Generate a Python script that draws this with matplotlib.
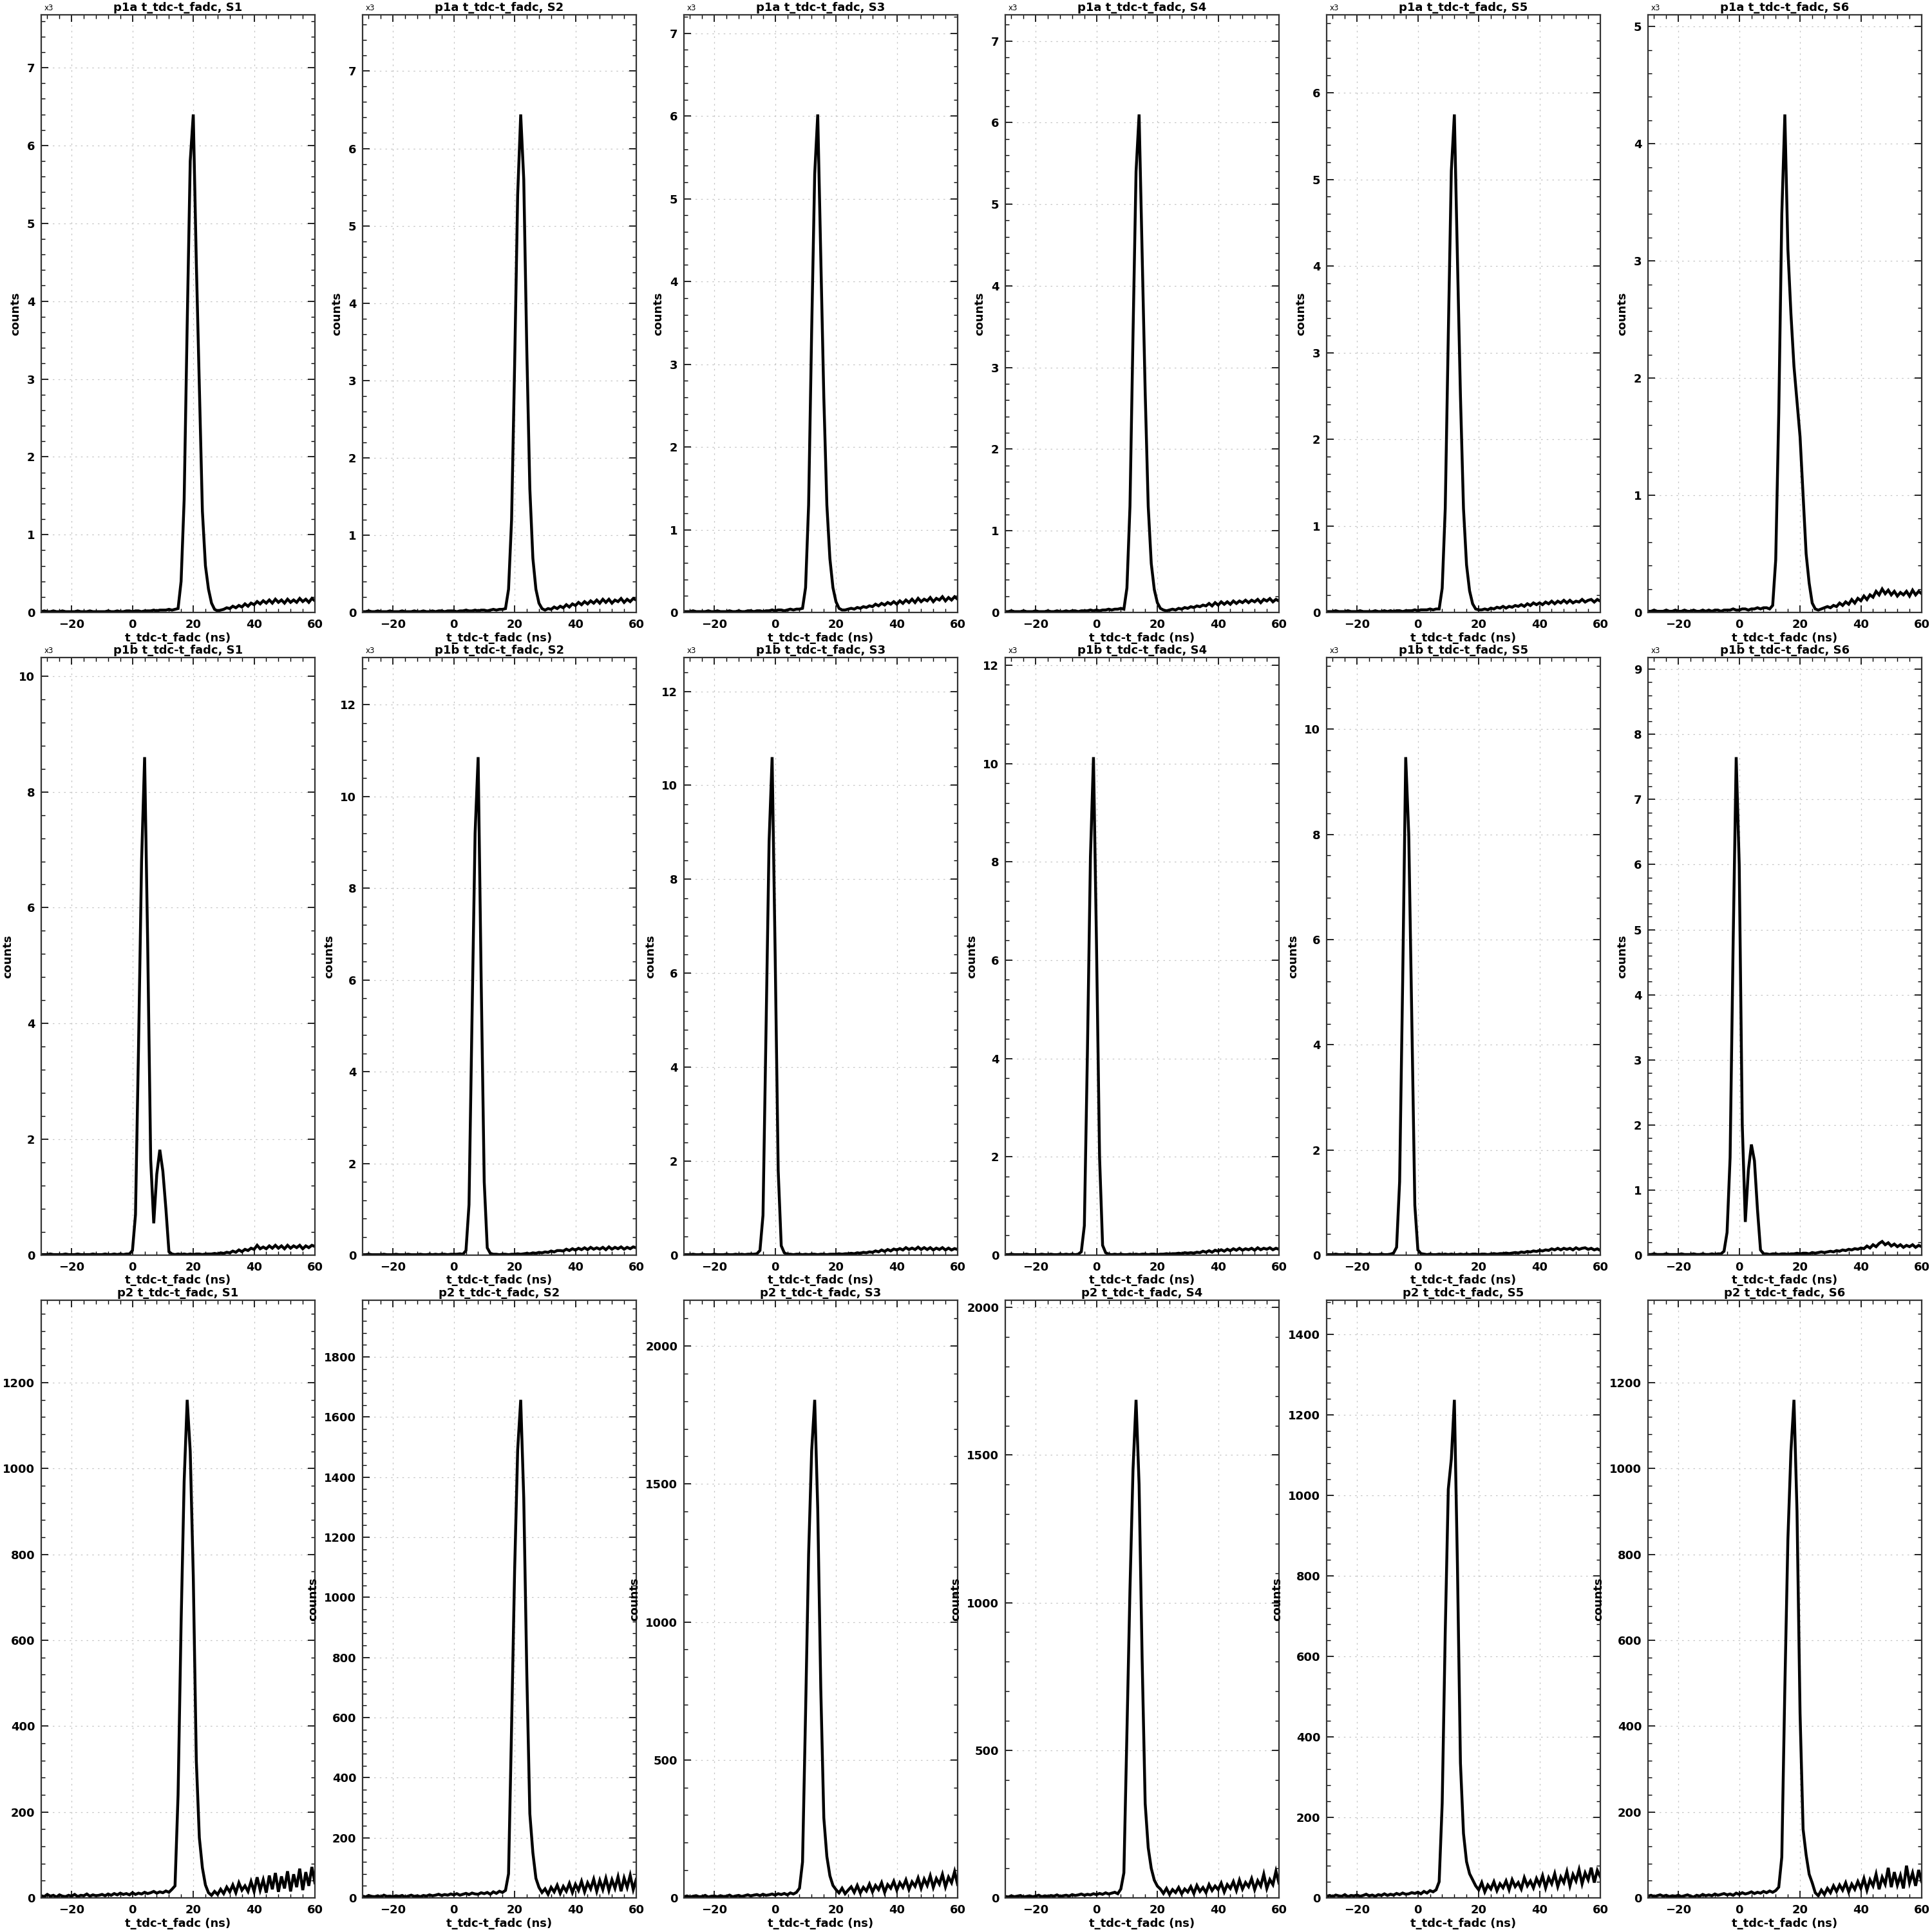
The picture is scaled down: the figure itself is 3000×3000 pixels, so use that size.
import matplotlib
matplotlib.use("Agg")
import matplotlib.pyplot as plt
from matplotlib.ticker import MaxNLocator, AutoMinorLocator

# bin positions (ns), 1 ns grid
t_ns = list(range(-30, 61))

# p1a, counts in units of 1e3
p1a_s1 = [0.01, 0.02, 0.01, 0.01, 0.02, 0.01, 0.01, 0.02, 0.01, 0.01,
          0.01, 0.01, 0.02, 0.01, 0.01, 0.01, 0.02, 0.01, 0.01, 0.01,
          0.01, 0.01, 0.02, 0.01, 0.01, 0.02, 0.01, 0.01, 0.02, 0.02,
          0.01, 0.02, 0.02, 0.01, 0.02, 0.02, 0.02, 0.03, 0.02, 0.03,
          0.03, 0.03, 0.04, 0.03, 0.04, 0.05, 0.4, 1.45, 3.7, 5.8,
          6.4, 4.5, 2.9, 1.3, 0.6, 0.3, 0.12, 0.04, 0.02, 0.03,
          0.04, 0.06, 0.05, 0.08, 0.06, 0.09, 0.07, 0.11, 0.08, 0.12,
          0.1, 0.14, 0.11, 0.15, 0.12, 0.16, 0.12, 0.17, 0.13, 0.16,
          0.12, 0.17, 0.13, 0.16, 0.13, 0.18, 0.14, 0.17, 0.13, 0.18,
          0.15]
p1a_s2 = [0.01, 0.01, 0.02, 0.01, 0.01, 0.02, 0.01, 0.01, 0.01, 0.02,
          0.01, 0.01, 0.01, 0.02, 0.01, 0.01, 0.01, 0.02, 0.01, 0.01,
          0.02, 0.01, 0.01, 0.02, 0.01, 0.02, 0.02, 0.01, 0.02, 0.02,
          0.02, 0.01, 0.02, 0.02, 0.03, 0.02, 0.02, 0.03, 0.02, 0.03,
          0.03, 0.02, 0.03, 0.04, 0.03, 0.04, 0.04, 0.05, 0.3, 1.2,
          3.2, 5.4, 6.44, 5.6, 3.4, 1.6, 0.7, 0.3, 0.12, 0.05,
          0.03, 0.05, 0.04, 0.07, 0.05, 0.08, 0.06, 0.1, 0.07, 0.11,
          0.09, 0.13, 0.1, 0.14, 0.11, 0.15, 0.12, 0.16, 0.12, 0.17,
          0.13, 0.17, 0.12, 0.16, 0.14, 0.18, 0.13, 0.17, 0.14, 0.18,
          0.16]
p1a_s3 = [0.01, 0.01, 0.01, 0.02, 0.01, 0.01, 0.01, 0.01, 0.02, 0.01,
          0.01, 0.02, 0.01, 0.01, 0.01, 0.02, 0.01, 0.01, 0.02, 0.01,
          0.01, 0.02, 0.02, 0.01, 0.02, 0.02, 0.01, 0.02, 0.02, 0.03,
          0.02, 0.03, 0.03, 0.02, 0.03, 0.04, 0.03, 0.04, 0.04, 0.05,
          0.3, 1.3, 3.4, 5.3, 6.02, 4.3, 2.6, 1.3, 0.65, 0.3,
          0.13, 0.05, 0.03, 0.03, 0.04, 0.05, 0.04, 0.06, 0.05, 0.07,
          0.06, 0.08, 0.07, 0.1, 0.08, 0.11, 0.09, 0.12, 0.1, 0.13,
          0.1, 0.14, 0.11, 0.15, 0.12, 0.16, 0.12, 0.17, 0.13, 0.16,
          0.14, 0.18, 0.13, 0.17, 0.15, 0.19, 0.14, 0.18, 0.15, 0.19,
          0.16]
p1a_s4 = [0.01, 0.01, 0.02, 0.01, 0.01, 0.01, 0.02, 0.01, 0.01, 0.01,
          0.02, 0.01, 0.01, 0.01, 0.02, 0.01, 0.01, 0.02, 0.01, 0.01,
          0.02, 0.01, 0.02, 0.02, 0.01, 0.02, 0.02, 0.02, 0.03, 0.02,
          0.03, 0.02, 0.03, 0.03, 0.04, 0.03, 0.04, 0.04, 0.05, 0.04,
          0.3, 1.3, 3.4, 5.4, 6.1, 4.4, 2.7, 1.3, 0.6, 0.28,
          0.12, 0.05, 0.03, 0.02, 0.03, 0.04, 0.03, 0.05, 0.04, 0.06,
          0.05, 0.07, 0.06, 0.08, 0.07, 0.09, 0.08, 0.11, 0.08, 0.12,
          0.09, 0.13, 0.1, 0.13, 0.1, 0.14, 0.11, 0.14, 0.12, 0.15,
          0.12, 0.15, 0.13, 0.16, 0.12, 0.16, 0.14, 0.17, 0.13, 0.16,
          0.14]
p1a_s5 = [0.01, 0.01, 0.01, 0.02, 0.01, 0.01, 0.01, 0.02, 0.01, 0.01,
          0.01, 0.02, 0.01, 0.01, 0.01, 0.01, 0.02, 0.01, 0.01, 0.02,
          0.01, 0.02, 0.01, 0.02, 0.02, 0.01, 0.02, 0.02, 0.02, 0.03,
          0.02, 0.03, 0.03, 0.03, 0.04, 0.03, 0.04, 0.04, 0.28, 1.2,
          3.2, 5.1, 5.75, 4.1, 2.5, 1.2, 0.55, 0.25, 0.1, 0.04,
          0.03, 0.03, 0.04, 0.03, 0.05, 0.04, 0.06, 0.05, 0.07, 0.05,
          0.07, 0.06, 0.08, 0.07, 0.09, 0.07, 0.1, 0.08, 0.11, 0.09,
          0.11, 0.09, 0.12, 0.1, 0.13, 0.1, 0.13, 0.11, 0.14, 0.11,
          0.14, 0.11, 0.13, 0.12, 0.15, 0.12, 0.14, 0.15, 0.12, 0.15,
          0.13]
p1a_s6 = [0.01, 0.01, 0.02, 0.01, 0.01, 0.01, 0.02, 0.01, 0.01, 0.02,
          0.01, 0.01, 0.02, 0.01, 0.01, 0.02, 0.01, 0.01, 0.02, 0.01,
          0.02, 0.01, 0.02, 0.02, 0.01, 0.02, 0.02, 0.02, 0.03, 0.02,
          0.02, 0.03, 0.03, 0.02, 0.03, 0.03, 0.04, 0.03, 0.04, 0.04,
          0.03, 0.06, 0.45, 1.7, 3.4, 4.25, 3.1, 2.55, 2.1, 1.8,
          1.5, 1.0, 0.5, 0.25, 0.08, 0.03, 0.02, 0.03, 0.04, 0.05,
          0.04, 0.06, 0.05, 0.08, 0.06, 0.09, 0.07, 0.11, 0.08, 0.12,
          0.1, 0.14, 0.11, 0.15, 0.13, 0.18, 0.15, 0.2, 0.16, 0.19,
          0.15, 0.18, 0.14, 0.17, 0.15, 0.18, 0.14, 0.19, 0.15, 0.18,
          0.16]

# p1b, counts in units of 1e3
p1b_s1 = [0.01, 0.01, 0.01, 0.02, 0.01, 0.01, 0.01, 0.01, 0.02, 0.01,
          0.01, 0.01, 0.02, 0.01, 0.01, 0.01, 0.01, 0.02, 0.01, 0.01,
          0.01, 0.02, 0.01, 0.01, 0.02, 0.01, 0.02, 0.01, 0.02, 0.02,
          0.08, 0.7, 3.6, 6.8, 8.6, 5.4, 1.65, 0.55, 1.4, 1.82,
          1.45, 0.8, 0.06, 0.02, 0.01, 0.02, 0.01, 0.02, 0.01, 0.02,
          0.01, 0.02, 0.02, 0.01, 0.02, 0.02, 0.02, 0.03, 0.02, 0.04,
          0.03, 0.05, 0.04, 0.07, 0.05, 0.09, 0.06, 0.1, 0.08, 0.12,
          0.1, 0.17, 0.11, 0.14, 0.11, 0.16, 0.12, 0.17, 0.12, 0.16,
          0.11, 0.17, 0.12, 0.16, 0.13, 0.17, 0.11, 0.16, 0.13, 0.17,
          0.15]
p1b_s2 = [0.01, 0.01, 0.02, 0.01, 0.01, 0.01, 0.01, 0.02, 0.01, 0.01,
          0.01, 0.02, 0.01, 0.01, 0.01, 0.02, 0.01, 0.01, 0.01, 0.02,
          0.01, 0.01, 0.02, 0.01, 0.02, 0.01, 0.02, 0.02, 0.01, 0.02,
          0.02, 0.02, 0.03, 0.02, 0.1, 1.1, 5.2, 9.2, 10.86, 6.0,
          1.6, 0.16, 0.04, 0.02, 0.02, 0.01, 0.02, 0.02, 0.01, 0.02,
          0.02, 0.03, 0.02, 0.03, 0.04, 0.03, 0.05, 0.04, 0.06, 0.05,
          0.07, 0.06, 0.09, 0.07, 0.1, 0.1, 0.09, 0.13, 0.1, 0.14,
          0.11, 0.15, 0.12, 0.16, 0.12, 0.17, 0.13, 0.16, 0.13, 0.17,
          0.12, 0.18, 0.13, 0.17, 0.14, 0.18, 0.13, 0.17, 0.14, 0.18,
          0.16]
p1b_s3 = [0.01, 0.01, 0.01, 0.02, 0.01, 0.01, 0.02, 0.01, 0.01, 0.01,
          0.02, 0.01, 0.01, 0.01, 0.02, 0.01, 0.01, 0.02, 0.01, 0.02,
          0.01, 0.02, 0.02, 0.02, 0.03, 0.1, 0.85, 4.8, 8.8, 10.6,
          6.4, 1.8, 0.2, 0.05, 0.02, 0.02, 0.01, 0.02, 0.02, 0.01,
          0.02, 0.01, 0.02, 0.02, 0.01, 0.02, 0.02, 0.01, 0.02, 0.02,
          0.02, 0.03, 0.02, 0.03, 0.03, 0.04, 0.03, 0.05, 0.04, 0.06,
          0.05, 0.07, 0.06, 0.09, 0.07, 0.11, 0.08, 0.12, 0.09, 0.13,
          0.11, 0.14, 0.11, 0.16, 0.12, 0.15, 0.12, 0.17, 0.12, 0.16,
          0.12, 0.16, 0.11, 0.15, 0.12, 0.16, 0.11, 0.15, 0.11, 0.14,
          0.12]
p1b_s4 = [0.01, 0.01, 0.02, 0.01, 0.01, 0.01, 0.01, 0.02, 0.01, 0.01,
          0.01, 0.01, 0.02, 0.01, 0.01, 0.02, 0.01, 0.01, 0.02, 0.01,
          0.02, 0.01, 0.02, 0.01, 0.02, 0.07, 0.6, 4.1, 8.1, 10.13,
          6.3, 2.0, 0.2, 0.05, 0.02, 0.01, 0.02, 0.01, 0.02, 0.01,
          0.01, 0.02, 0.01, 0.02, 0.01, 0.02, 0.02, 0.01, 0.02, 0.02,
          0.01, 0.02, 0.02, 0.03, 0.02, 0.03, 0.03, 0.04, 0.03, 0.05,
          0.04, 0.05, 0.04, 0.06, 0.05, 0.08, 0.06, 0.09, 0.06, 0.1,
          0.08, 0.11, 0.08, 0.12, 0.09, 0.13, 0.1, 0.14, 0.1, 0.13,
          0.11, 0.14, 0.1, 0.15, 0.11, 0.14, 0.12, 0.15, 0.11, 0.14,
          0.12]
p1b_s5 = [0.01, 0.01, 0.01, 0.02, 0.01, 0.01, 0.01, 0.02, 0.01, 0.01,
          0.01, 0.02, 0.01, 0.01, 0.02, 0.01, 0.01, 0.01, 0.02, 0.01,
          0.01, 0.02, 0.04, 0.15, 1.4, 5.2, 9.47, 8.0, 4.5, 0.95,
          0.1, 0.03, 0.02, 0.01, 0.02, 0.01, 0.01, 0.02, 0.01, 0.02,
          0.01, 0.02, 0.01, 0.01, 0.02, 0.01, 0.02, 0.01, 0.02, 0.02,
          0.01, 0.02, 0.02, 0.01, 0.02, 0.03, 0.02, 0.03, 0.03, 0.04,
          0.03, 0.04, 0.05, 0.04, 0.06, 0.05, 0.07, 0.06, 0.08, 0.07,
          0.09, 0.08, 0.1, 0.09, 0.12, 0.1, 0.13, 0.1, 0.13, 0.11,
          0.13, 0.1, 0.14, 0.11, 0.13, 0.14, 0.11, 0.13, 0.1, 0.12,
          0.09]
p1b_s6 = [0.01, 0.01, 0.02, 0.01, 0.01, 0.01, 0.02, 0.01, 0.01, 0.01,
          0.01, 0.02, 0.01, 0.01, 0.01, 0.02, 0.01, 0.01, 0.02, 0.01,
          0.01, 0.02, 0.01, 0.02, 0.02, 0.06, 0.35, 1.5, 4.8, 7.65,
          6.0, 2.0, 0.51, 1.3, 1.7, 1.45, 0.7, 0.08, 0.02, 0.02,
          0.01, 0.02, 0.02, 0.01, 0.02, 0.02, 0.01, 0.02, 0.02, 0.03,
          0.02, 0.03, 0.03, 0.02, 0.04, 0.03, 0.04, 0.05, 0.04, 0.05,
          0.06, 0.05, 0.07, 0.06, 0.08, 0.07, 0.09, 0.08, 0.1, 0.09,
          0.11, 0.1, 0.14, 0.11, 0.16, 0.13, 0.18, 0.21, 0.16, 0.19,
          0.14, 0.17, 0.13, 0.16, 0.12, 0.15, 0.13, 0.16, 0.12, 0.15,
          0.13]

# p2, counts
p2_s1 = [5, 3, 8, 4, 6, 2, 7, 4, 3, 6,
         4, 8, 3, 6, 5, 9, 4, 7, 5, 6,
         8, 5, 9, 6, 10, 7, 11, 8, 10, 7,
         12, 8, 11, 9, 13, 10, 12, 15, 11, 14,
         12, 16, 13, 20, 28, 240, 640, 970, 1160, 1040,
         750, 320, 140, 70, 30, 12, 6, 15, 8, 20,
         10, 25, 14, 30, 12, 35, 18, 28, 15, 38,
         15, 48, 18, 42, 12, 52, 20, 58, 14, 50,
         22, 62, 15, 55, 25, 68, 18, 60, 28, 72,
         35]
p2_s2 = [6, 3, 8, 5, 4, 7, 3, 9, 5, 6,
         4, 7, 5, 8, 3, 6, 9, 5, 7, 4,
         8, 6, 10, 7, 9, 12, 8, 11, 9, 13,
         10, 14, 9, 12, 15, 11, 16, 13, 12, 17,
         14, 18, 12, 20, 15, 22, 18, 25, 80, 570,
         1090, 1490, 1657, 1330, 750, 280, 150, 65, 35, 18,
         30, 12, 35, 20, 42, 15, 38, 22, 48, 18,
         45, 25, 55, 20, 50, 30, 62, 22, 58, 28,
         65, 25, 60, 32, 70, 22, 66, 35, 75, 28,
         62]
p2_s3 = [4, 7, 3, 6, 8, 4, 5, 9, 3, 6,
         7, 4, 8, 5, 6, 10, 4, 7, 9, 5,
         8, 11, 7, 10, 12, 8, 13, 9, 11, 14,
         10, 15, 12, 16, 11, 18, 14, 20, 35, 130,
         670, 1245, 1620, 1805, 1410, 760, 290, 150, 80, 45,
         30, 18, 35, 15, 28, 40, 20, 45, 18, 38,
         25, 50, 22, 45, 30, 55, 20, 48, 35, 60,
         28, 55, 38, 65, 30, 58, 42, 72, 35, 68,
         45, 80, 38, 70, 50, 85, 40, 75, 55, 95,
         48]
p2_s4 = [5, 3, 7, 4, 6, 8, 3, 5, 7, 4,
         6, 9, 4, 7, 5, 8, 6, 10, 5, 7,
         9, 6, 11, 8, 10, 13, 9, 12, 10, 14,
         11, 15, 12, 17, 13, 16, 19, 14, 30, 85,
         560, 1045, 1450, 1687, 1400, 810, 320, 170, 100, 60,
         40, 30, 15, 32, 12, 28, 18, 35, 14, 30,
         20, 38, 15, 42, 22, 35, 18, 45, 25, 40,
         28, 50, 20, 45, 32, 55, 25, 60, 30, 52,
         38, 65, 28, 58, 40, 80, 32, 62, 45, 90,
         50]
p2_s5 = [4, 6, 3, 7, 5, 4, 8, 3, 6, 5,
         7, 4, 6, 9, 5, 7, 4, 8, 6, 10,
         6, 9, 7, 11, 8, 12, 9, 10, 13, 11,
         14, 10, 16, 12, 18, 15, 20, 40, 235, 660,
         1015, 1090, 1237, 830, 335, 160, 90, 60, 45, 30,
         20, 38, 15, 32, 22, 40, 18, 35, 25, 42,
         20, 45, 28, 38, 22, 50, 30, 42, 25, 48,
         32, 55, 25, 50, 35, 60, 28, 52, 38, 65,
         30, 58, 42, 70, 35, 62, 45, 75, 38, 68,
         52]
p2_s6 = [4, 6, 3, 5, 7, 4, 6, 3, 5, 4,
         6, 3, 5, 7, 4, 2, 6, 4, 8, 5,
         7, 5, 9, 6, 8, 10, 7, 9, 6, 11,
         8, 12, 9, 11, 14, 10, 13, 11, 15, 12,
         16, 13, 17, 25, 95, 490, 835, 1040, 1160, 900,
         430, 160, 100, 55, 35, 12, 5, 18, 8, 22,
         12, 28, 15, 30, 18, 35, 14, 32, 20, 38,
         22, 45, 18, 42, 28, 55, 20, 48, 32, 70,
         25, 60, 30, 52, 22, 75, 35, 58, 28, 65,
         38]

row_names = ["p1a", "p1b", "p2"]
sectors = ["S1", "S2", "S3", "S4", "S5", "S6"]
rows = [[p1a_s1, p1a_s2, p1a_s3, p1a_s4, p1a_s5, p1a_s6],
        [p1b_s1, p1b_s2, p1b_s3, p1b_s4, p1b_s5, p1b_s6],
        [p2_s1, p2_s2, p2_s3, p2_s4, p2_s5, p2_s6]]
in_thousands = [True, True, False]

fig, axes = plt.subplots(3, 6, figsize=(30, 30), dpi=100)
fig.subplots_adjust(left=64 / 3000, right=2984 / 3000,
                    bottom=1 - 2947 / 3000, top=1 - 23 / 3000,
                    wspace=74 / 425, hspace=70 / 928)

for r in range(3):
    for c in range(6):
        ax = axes[r, c]
        y = rows[r][c]
        assert len(y) == len(t_ns)
        ax.plot(t_ns, y, color='black', lw=3.2, solid_joinstyle='miter')
        ax.set_xlim(-30, 60)
        ax.set_ylim(0, 1.2 * max(y))
        ax.set_xticks([-20, 0, 20, 40, 60])
        ax.xaxis.set_minor_locator(AutoMinorLocator(5))
        ax.yaxis.set_major_locator(MaxNLocator(nbins=10, steps=[1, 2, 5, 10]))
        ax.yaxis.set_minor_locator(AutoMinorLocator(5))
        ax.tick_params(which='both', direction='in', top=True, right=True,
                       labelsize=13, pad=7)
        ax.tick_params(which='major', length=8, width=1.2)
        ax.tick_params(which='minor', length=4, width=1.0)
        for lab in ax.get_xticklabels() + ax.get_yticklabels():
            lab.set_fontweight('bold')
        ax.grid(True, which='major', color='#c4c4c4', lw=0.9,
                ls=(0, (2, 5)))
        for sp in ax.spines.values():
            sp.set_linewidth(1.6)
            sp.set_color('#333333')
        ax.set_title(row_names[r] + " t_tdc-t_fadc, " + sectors[c],
                     fontsize=13, fontweight='bold', pad=4)
        ax.set_xlabel("t_tdc-t_fadc (ns)", fontsize=13, fontweight='bold',
                      labelpad=2)
        ax.set_ylabel("counts", fontsize=13, fontweight='bold', labelpad=6)
        if in_thousands[r]:
            ax.text(0.012, 1.004, "x3", transform=ax.transAxes,
                    fontsize=8.5, ha='left', va='bottom')

fig.savefig("out.png", dpi=100)
